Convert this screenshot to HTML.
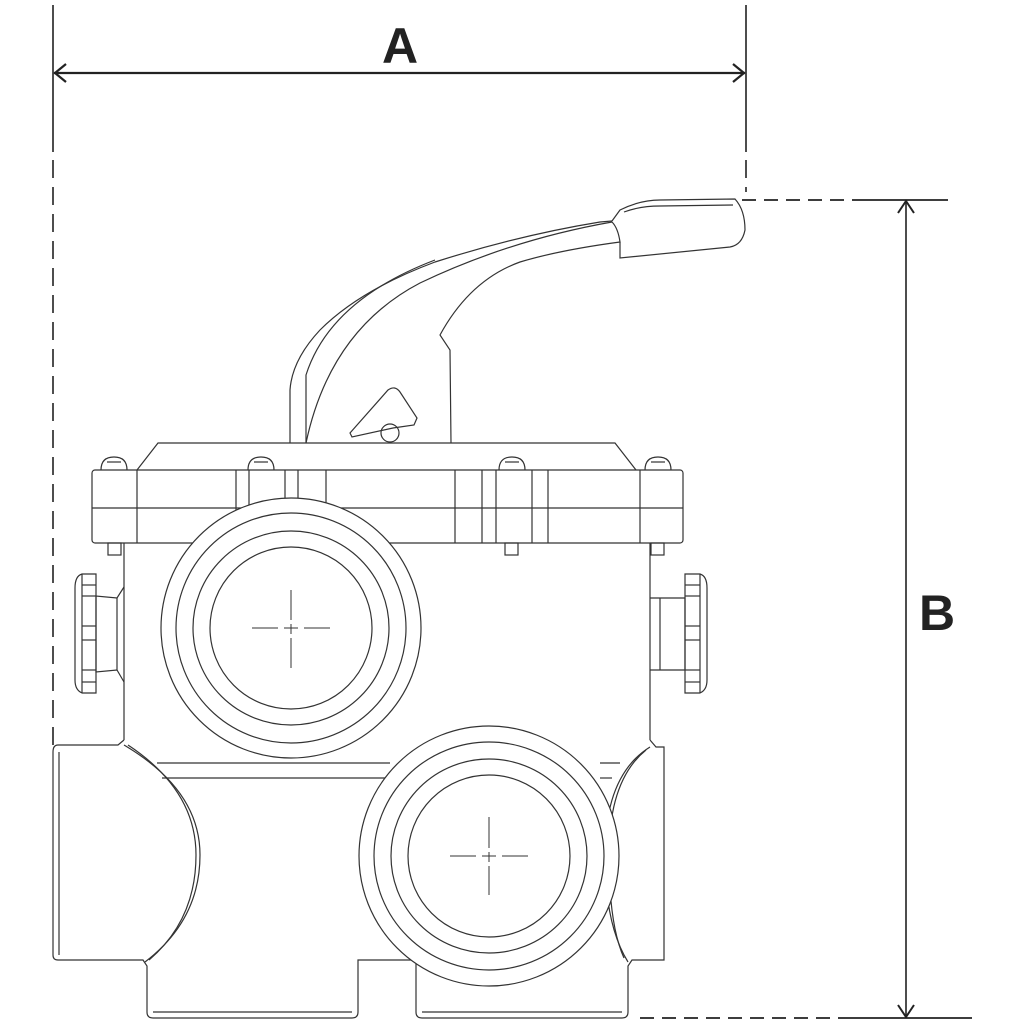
<!DOCTYPE html>
<html><head><meta charset="utf-8"><style>
html,body{margin:0;padding:0;background:#fff}
svg{display:block}
text{font-family:"Liberation Sans",sans-serif;font-weight:bold}
</style></head><body>
<svg width="1024" height="1024" viewBox="0 0 1024 1024" xmlns="http://www.w3.org/2000/svg">
<g fill="none" stroke="#222" stroke-width="1.3">
<!-- dimension A -->
<line x1="53" y1="5" x2="53" y2="152" stroke-width="1.6"/>
<line x1="53" y1="160" x2="53" y2="745" stroke-width="1.6" stroke-dasharray="18,9"/>
<line x1="746" y1="5" x2="746" y2="152" stroke-width="1.6"/>
<line x1="746" y1="160" x2="746" y2="192" stroke-width="1.6" stroke-dasharray="18,9"/>
<line x1="54" y1="73" x2="745" y2="73" stroke-width="2.2"/>
<polyline points="66,64 55,73 66,82" stroke-width="2.2"/>
<polyline points="733,64 744,73 733,82" stroke-width="2.2"/>
<!-- dimension B -->
<line x1="742" y1="200" x2="860" y2="200" stroke-width="1.8" stroke-dasharray="14,8"/>
<line x1="860" y1="200" x2="948" y2="200" stroke-width="1.8"/>
<line x1="640" y1="1018" x2="845" y2="1018" stroke-width="1.8" stroke-dasharray="14,8"/>
<line x1="845" y1="1018" x2="972" y2="1018" stroke-width="1.8"/>
<line x1="906" y1="201" x2="906" y2="1017" stroke-width="1.6"/>
<polyline points="898,213 906,201 914,213" stroke-width="2"/>
<polyline points="898,1005 906,1017 914,1005" stroke-width="2"/>
</g>
<text x="400" y="63" font-size="50" text-anchor="middle" fill="#222">A</text>
<text x="937" y="630" font-size="50" text-anchor="middle" fill="#222">B</text>

<g fill="none" stroke="#333" stroke-width="1.2">
<!-- handle -->
<path d="M290,443 L290,390 Q292,360 320,330 Q360,290 435,262 Q520,235 600,222 L612,221"/>
<path d="M306,443 L306,375 Q330,300 435,260"/>
<path d="M306,443 Q330,330 420,283 Q510,240 612,222 Q618,228 620,242 Q560,250 520,262 Q470,280 440,335 L450,350 L451,443"/>
<path d="M612,221 L620,210 Q640,200 660,200 L735,199 Q745,210 745,230 Q742,245 730,247 L620,258 L620,242"/>
<path d="M624,212 Q640,206 660,206 L733,205"/>
<path d="M350,433 L388,390 Q395,385 400,392 L417,418 L414,425 L393,428 L352,437 Z"/>
<circle cx="390" cy="433" r="9"/>
<!-- top trapezoid -->
<path d="M137,470 L158,443 L615,443 L636,470"/>
<!-- cap -->
<rect x="92" y="470" width="591" height="73" rx="3"/>
<line x1="92" y1="508" x2="683" y2="508"/>
<g>
<line x1="137" y1="470" x2="137" y2="543"/>
<line x1="236" y1="470" x2="236" y2="543"/><line x1="249" y1="470" x2="249" y2="543"/>
<line x1="285" y1="470" x2="285" y2="543"/><line x1="298" y1="470" x2="298" y2="543"/>
<line x1="326" y1="470" x2="326" y2="543"/>
<line x1="455" y1="470" x2="455" y2="543"/>
<line x1="482" y1="470" x2="482" y2="543"/><line x1="496" y1="470" x2="496" y2="543"/>
<line x1="532" y1="470" x2="532" y2="543"/><line x1="548" y1="470" x2="548" y2="543"/>
<line x1="640" y1="470" x2="640" y2="543"/>
</g>
<!-- screws -->
<g>
<path d="M101,470 Q101,457 114,457 Q127,457 127,470"/><line x1="107" y1="462" x2="121" y2="462"/>
<path d="M248,470 Q248,457 261,457 Q274,457 274,470"/><line x1="254" y1="462" x2="268" y2="462"/>
<path d="M499,470 Q499,457 512,457 Q525,457 525,470"/><line x1="505" y1="462" x2="519" y2="462"/>
<path d="M645,470 Q645,457 658,457 Q671,457 671,470"/><line x1="651" y1="462" x2="665" y2="462"/>
<rect x="108" y="543" width="13" height="12"/><rect x="505" y="543" width="13" height="12"/><rect x="651" y="543" width="13" height="12"/>
</g>
<!-- upper body -->
<line x1="124" y1="543" x2="124" y2="740"/>
<line x1="650" y1="543" x2="650" y2="740"/>
<!-- side knobs -->
<path d="M124,587 L117,598 L96,596 L96,672 L117,670 L124,682"/>
<line x1="117" y1="598" x2="117" y2="670"/>
<path d="M82,574 L96,574 L96,693 L82,693 Q75,690 75,680 L75,588 Q75,576 82,574 Z"/>
<line x1="82" y1="574" x2="82" y2="693"/>
<line x1="82" y1="585" x2="96" y2="585"/><line x1="82" y1="596" x2="96" y2="596"/><line x1="82" y1="626" x2="96" y2="626"/><line x1="82" y1="640" x2="96" y2="640"/><line x1="82" y1="670" x2="96" y2="670"/><line x1="82" y1="682" x2="96" y2="682"/>
<path d="M650,598 L685,598 L685,670 L650,670"/><line x1="660" y1="598" x2="660" y2="670"/>
<path d="M700,574 L685,574 L685,693 L700,693 Q707,690 707,680 L707,588 Q707,576 700,574 Z"/>
<line x1="700" y1="574" x2="700" y2="693"/>
<line x1="685" y1="585" x2="700" y2="585"/><line x1="685" y1="596" x2="700" y2="596"/><line x1="685" y1="626" x2="700" y2="626"/><line x1="685" y1="640" x2="700" y2="640"/><line x1="685" y1="670" x2="700" y2="670"/><line x1="685" y1="682" x2="700" y2="682"/>
<!-- lower section -->
<path d="M124,740 L118,745 L58,745 Q53,745 53,752 L53,955 Q53,960 58,960 L143,960 L147,966 L147,1012 Q147,1018 153,1018 L352,1018 Q358,1018 358,1012 L358,960 L416,960 L416,1012 Q416,1018 422,1018 L622,1018 Q628,1018 628,1012 L628,966 L632,960 L664,960 L664,747 L656,747 L650,740"/>
<line x1="59" y1="752" x2="59" y2="955"/>
<line x1="153" y1="1012" x2="352" y2="1012"/><line x1="422" y1="1012" x2="622" y2="1012"/>
<path d="M124,745 Q200,790 200,855 Q200,920 145,962"/>
<path d="M128,745 Q196,790 196,855 Q196,920 149,960"/>
<path d="M650,747 Q605,775 605,855 Q605,925 628,962"/>
<path d="M646,750 Q609,780 609,855 Q609,925 624,958"/>
<line x1="157" y1="763" x2="390" y2="763"/><line x1="162" y1="778" x2="385" y2="778"/>
<line x1="600" y1="763" x2="620" y2="763"/><line x1="600" y1="778" x2="612" y2="778"/>
<!-- upper port -->
<ellipse cx="291" cy="628" rx="130" ry="130" fill="#fff"/>
<ellipse cx="291" cy="628" rx="115" ry="115"/>
<ellipse cx="291" cy="628" rx="98" ry="97"/>
<ellipse cx="291" cy="628" rx="81" ry="81"/>
<g stroke-width="1"><line x1="252" y1="628" x2="278" y2="628"/><line x1="284" y1="628" x2="298" y2="628"/><line x1="304" y1="628" x2="330" y2="628"/>
<line x1="291" y1="590" x2="291" y2="620"/><line x1="291" y1="624" x2="291" y2="634"/><line x1="291" y1="638" x2="291" y2="668"/></g>
<!-- lower port -->
<ellipse cx="489" cy="856" rx="130" ry="130" fill="#fff"/>
<ellipse cx="489" cy="856" rx="115" ry="114"/>
<ellipse cx="489" cy="856" rx="98" ry="97"/>
<ellipse cx="489" cy="856" rx="81" ry="81"/>
<g stroke-width="1"><line x1="450" y1="856" x2="476" y2="856"/><line x1="482" y1="856" x2="496" y2="856"/><line x1="502" y1="856" x2="528" y2="856"/>
<line x1="489" y1="817" x2="489" y2="848"/><line x1="489" y1="852" x2="489" y2="862"/><line x1="489" y1="866" x2="489" y2="895"/></g>
</g>
</svg>
</body></html>
